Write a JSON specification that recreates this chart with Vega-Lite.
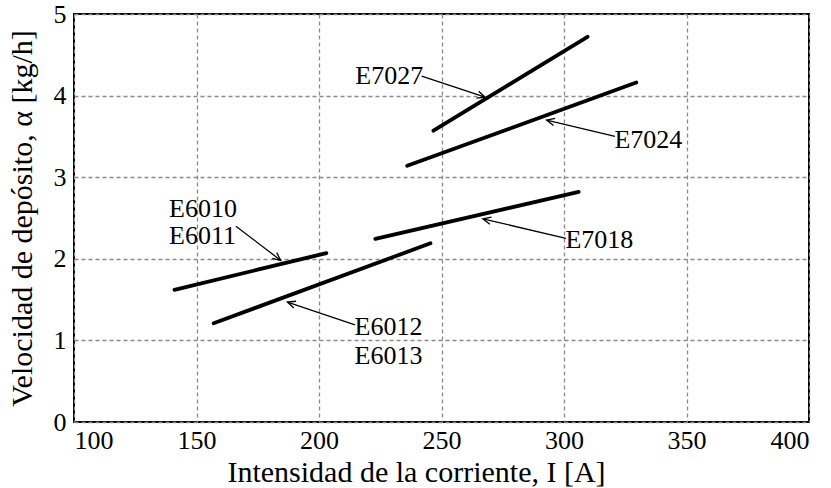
{
  "$schema": "https://vega.github.io/schema/vega-lite/v6.json",
  "width": 735,
  "height": 408,
  "autosize": {"type": "none"},
  "padding": {"left": 74, "top": 14, "right": 22, "bottom": 66},
  "background": "white",
  "config": {
    "view": {"stroke": "black", "strokeWidth": 2},
    "axis": {
      "labelFont": "Liberation Serif",
      "labelFontSize": 26,
      "labelColor": "black",
      "titleFont": "Liberation Serif",
      "titleFontSize": 30,
      "titleFontWeight": "normal",
      "titleColor": "black",
      "ticks": false,
      "domain": false,
      "grid": true,
      "gridColor": "#8a8a8a",
      "gridDash": [4, 3],
      "gridWidth": 1.3
    }
  },
  "datasets": {
    "lines": [
      {"series": "E6010/E6011", "I": 141, "v": 1.62},
      {"series": "E6010/E6011", "I": 203, "v": 2.07},
      {"series": "E6012/E6013", "I": 157, "v": 1.21},
      {"series": "E6012/E6013", "I": 245.5, "v": 2.19},
      {"series": "E7018", "I": 223, "v": 2.245},
      {"series": "E7018", "I": 306, "v": 2.82},
      {"series": "E7024", "I": 236, "v": 3.14},
      {"series": "E7024", "I": 329.5, "v": 4.16},
      {"series": "E7027", "I": 246.7, "v": 3.57},
      {"series": "E7027", "I": 309.6, "v": 4.72}
    ],
    "arrows": [
      {"series": "E6010/E6011", "I": 166.1, "v": 2.4, "I2": 184.4, "v2": 1.98, "dir": 128},
      {"series": "E6012/E6013", "I": 214.7, "v": 1.19, "I2": 187.1, "v2": 1.47, "dir": 289},
      {"series": "E7018", "I": 300.8, "v": 2.25, "I2": 266.9, "v2": 2.49, "dir": 283.5},
      {"series": "E7027", "I": 241.9, "v": 4.24, "I2": 267.8, "v2": 3.98, "dir": 109},
      {"series": "E7024", "I": 320.8, "v": 3.5, "I2": 292.9, "v2": 3.7, "dir": 283.7}
    ],
    "labels": [
      {"label": "E6010", "I": 138.8, "v": 2.61},
      {"label": "E6011", "I": 138.8, "v": 2.28},
      {"label": "E6012", "I": 214.5, "v": 1.16},
      {"label": "E6013", "I": 214.5, "v": 0.81},
      {"label": "E7018", "I": 300.6, "v": 2.23},
      {"label": "E7027", "I": 214.8, "v": 4.24},
      {"label": "E7024", "I": 320.6, "v": 3.46}
    ]
  },
  "layer": [
    {
      "data": {"name": "lines"},
      "mark": {"type": "line", "color": "black", "strokeWidth": 3.8, "strokeCap": "round"},
      "encoding": {
        "x": {
          "field": "I", "type": "quantitative",
          "scale": {"domain": [100, 400], "nice": false, "zero": false},
          "axis": {"values": [100, 150, 200, 250, 300, 350, 400], "format": "d", "title": "Intensidad de la corriente, I [A]", "labelPadding": 5, "titlePadding": 4, "titleX": 342}
        },
        "y": {
          "field": "v", "type": "quantitative",
          "scale": {"domain": [0, 5], "nice": false},
          "axis": {"values": [0, 1, 2, 3, 4, 5], "format": "d", "title": "Velocidad de depósito, α [kg/h]", "labelPadding": 8, "titlePadding": 16}
        },
        "detail": {"field": "series"}
      }
    },
    {
      "data": {"name": "arrows"},
      "mark": {"type": "rule", "color": "black", "strokeWidth": 1.3},
      "encoding": {
        "x": {"field": "I", "type": "quantitative"},
        "y": {"field": "v", "type": "quantitative"},
        "x2": {"field": "I2"},
        "y2": {"field": "v2"}
      }
    },
    {
      "data": {"name": "arrows"},
      "mark": {"type": "point", "shape": "M -0.45 1 L 0 0 L 0.45 1", "filled": false, "stroke": "black", "strokeWidth": 1.3, "size": 256, "opacity": 1},
      "encoding": {
        "x": {"field": "I2", "type": "quantitative"},
        "y": {"field": "v2", "type": "quantitative"},
        "angle": {"field": "dir", "type": "quantitative", "scale": null}
      }
    },
    {
      "data": {"name": "labels"},
      "mark": {"type": "text", "font": "Liberation Serif", "fontSize": 26, "align": "left", "baseline": "middle", "color": "black"},
      "encoding": {
        "x": {"field": "I", "type": "quantitative"},
        "y": {"field": "v", "type": "quantitative"},
        "text": {"field": "label"}
      }
    }
  ]
}
